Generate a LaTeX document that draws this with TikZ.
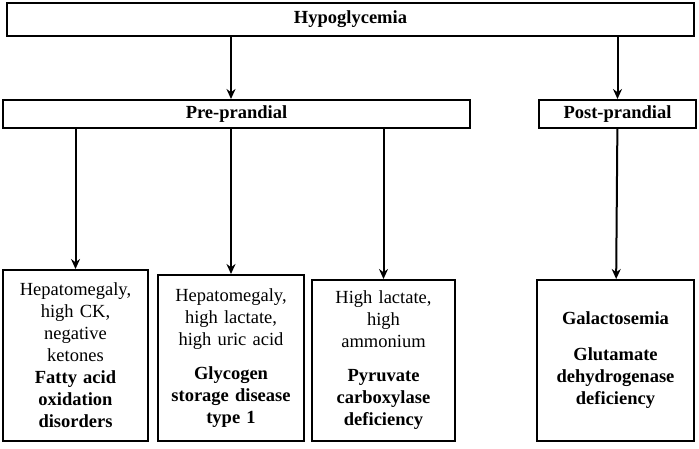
\documentclass[tikz,border=0pt]{standalone}
\usepackage{fontspec}
\setmainfont{Liberation Serif}
\usetikzlibrary{positioning,arrows.meta}
\begin{document}
\begin{tikzpicture}[x=1pt,y=-1pt]
	\tikzset{b/.style={draw=black, line width=2pt, inner sep=1pt, align=center, font=\fontsize{18.5}{22}\selectfont},
	t/.style={b, font=\fontsize{18.5}{22}\selectfont\bfseries},
	f/.style={-{Stealth[length=10pt,width=9pt]}, line width=2pt}};

	\useasboundingbox (0,0) rectangle (699,449);

	\node[t, minimum width=687, minimum height=33] (h) at (350.5,19.5) {Hypoglycemia};
	\node[t, minimum width=467, minimum height=28] (pre) at (236.5,114) {Pre-prandial};
	\node[t, minimum width=157, minimum height=28] (post) at (617.5,114) {Post-prandial};

	\node[b, minimum width=145, minimum height=171, text width=140] (fa) at (75.5,355.5) {Hepatomegaly,\\ high CK,\\ negative\\ ketones\\ \textbf{Fatty acid}\\ \textbf{oxidation}\\ \textbf{disorders}};
	\node[b, minimum width=146, minimum height=166, text width=140] (gs) at (231,358) {Hepatomegaly,\\ high lactate,\\ high uric acid\\[12pt] \textbf{Glycogen}\\ \textbf{storage disease}\\ \textbf{type 1}};
	\node[b, minimum width=143, minimum height=161, text width=138] (pc) at (383.5,360.5) {High lactate,\\ high\\ ammonium\\[12pt] \textbf{Pyruvate}\\ \textbf{carboxylase}\\ \textbf{deficiency}};
	\node[b, minimum width=157, minimum height=161, text width=150] (ga) at (615.5,360.5) {\textbf{Galactosemia}\\[14pt] \textbf{Glutamate}\\ \textbf{dehydrogenase}\\ \textbf{deficiency}\\[22pt]};

	\draw[f] (h.south -| gs) -- (pre.north -| gs);
	\draw[f] (h.south -| post) -- (post);
	\draw[f] (pre.south -| fa) -- (fa);
	\draw[f] (pre.south -| gs) -- (gs);
	\draw[f] (pre.south -| pc) -- (pc);
	\draw[f] (post) -- (ga);
\end{tikzpicture}
\end{document}
